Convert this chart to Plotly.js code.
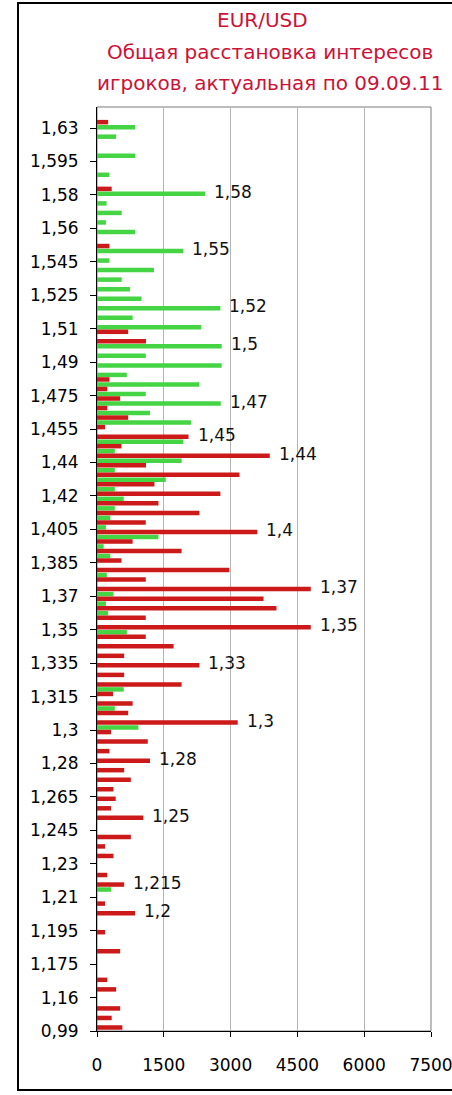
<!DOCTYPE html>
<html>
<head>
<meta charset="utf-8">
<script src="https://cdn.plot.ly/plotly-3.0.1.min.js"></script>
<style>
  html, body { margin: 0; padding: 0; background: #ffffff; }
  #chart { width: 452px; height: 1095px; }
</style>
</head>
<body>
<div id="chart"></div>
<script>
// ---- data ----
const titleLines = ["EUR/USD", "Общая расстановка интересов", "игроков, актуальная по 09.09.11"];

const priceLevels = [
  1.62, 1.615, 1.61, 1.605, 1.6, 1.595, 1.59, 1.585, 1.58, 1.575,
  1.57, 1.565, 1.56, 1.555, 1.55, 1.545, 1.54, 1.535, 1.53, 1.525,
  1.52, 1.515, 1.51, 1.505, 1.5, 1.495, 1.49, 1.485, 1.48, 1.475,
  1.47, 1.465, 1.46, 1.455, 1.45, 1.445, 1.44, 1.435, 1.43, 1.425,
  1.42, 1.415, 1.41, 1.405, 1.4, 1.395, 1.39, 1.385, 1.38, 1.375,
  1.37, 1.365, 1.36, 1.355, 1.35, 1.345, 1.34, 1.335, 1.33, 1.325,
  1.32, 1.315, 1.31, 1.305, 1.3, 1.295, 1.29, 1.285, 1.28, 1.275,
  1.27, 1.265, 1.26, 1.255, 1.25, 1.245, 1.24, 1.235, 1.23, 1.225,
  1.22, 1.215, 1.21, 1.205, 1.2, 1.195, 1.19, 1.185, 1.18, 1.175,
  1.17, 1.165, 1.16, 1.155, 1.15, 1.145, 1.14
];

const redValues = [
  0, 250, 0, 0, 0, 0, 0, 0, 330, 0,
  0, 0, 0, 0, 280, 0, 0, 0, 0, 0,
  0, 0, 0, 700, 1100, 0, 0, 0, 280, 230,
  520, 230, 700, 180, 2055, 550, 3880, 1100, 3200, 1290,
  2770, 1380, 2300, 1095, 3600, 800, 1900, 550, 2970, 1095,
  4800, 3740, 4030, 1095, 4800, 1095, 1720, 610, 2300, 610,
  1900, 360, 800, 700, 3160, 315, 1140, 280, 1190, 610,
  760, 370, 420, 315, 1040, 0, 760, 180, 370, 0,
  230, 610, 0, 180, 855, 0, 180, 0, 520, 0,
  0, 230, 430, 0, 520, 330, 570
];

const greenValues = [
  0, 855, 430, 0, 855, 0, 280, 0, 2430, 215,
  555, 200, 855, 0, 1940, 280, 1280, 555, 740, 1000,
  2770, 800, 2340, 0, 2800, 1095, 2800, 670, 2300, 1095,
  2780, 1190, 2110, 0, 1940, 400, 1900, 400, 1545, 400,
  600, 400, 300, 200, 1380, 150, 300, 0, 220, 0,
  370, 200, 250, 0, 670, 0, 0, 0, 0, 0,
  600, 0, 400, 0, 930, 0, 0, 0, 0, 0,
  0, 0, 0, 0, 0, 0, 0, 0, 0, 0,
  0, 315, 0, 0, 0, 0, 0, 0, 0, 0,
  0, 0, 0, 0, 0, 0, 0
];

const yTickLabels = [
  "1,63", "1,595", "1,58", "1,56", "1,545", "1,525", "1,51", "1,49", "1,475", "1,455",
  "1,44", "1,42", "1,405", "1,385", "1,37", "1,35", "1,335", "1,315", "1,3", "1,28",
  "1,265", "1,245", "1,23", "1,21", "1,195", "1,175", "1,16", "0,99"
];

const xTickValues = [0, 1500, 3000, 4500, 6000, 7500];

const barLabelTexts  = ["1,58", "1,55", "1,52", "1,5", "1,47", "1,45", "1,44", "1,4", "1,37", "1,35", "1,33", "1,3", "1,28", "1,25", "1,215", "1,2"];
const barLabelPrices = [1.58, 1.55, 1.52, 1.5, 1.47, 1.45, 1.44, 1.4, 1.37, 1.35, 1.33, 1.3, 1.28, 1.25, 1.215, 1.2];
const barLabelSeries = ["g", "g", "g", "g", "g", "r", "r", "r", "r", "r", "r", "r", "r", "r", "r", "r"];

// ---- layout constants ----
const FONT = "DejaVu Sans";
const W = 452, H = 1095;
const M = { l: 97, r: 21, t: 107, b: 64 };
const plotH = H - M.t - M.b;   // 924
const plotW = W - M.l - M.r;   // 334
const yTop = 1.62426, yBot = 1.13947;
const subW = 0.00236;          // thickness of each sub-bar (price units)
const subGap = 0.00013;        // half gap between red (upper) and green (lower) sub-bars
const redCenter = subGap + subW / 2;

const firstTickPx = 21, tickStepPx = 903 / 27;
const yTickVals = yTickLabels.map((_, k) =>
  yTop - (firstTickPx + k * tickStepPx) / plotH * (yTop - yBot));

const traces = [
  {
    type: "bar", orientation: "h", name: "green",
    y: priceLevels, x: greenValues,
    offset: -(subGap + subW), width: subW,
    marker: { color: "#45d443", line: { width: 0 } },
    hoverinfo: "skip", showlegend: false
  },
  {
    type: "bar", orientation: "h", name: "red",
    y: priceLevels, x: redValues,
    offset: subGap, width: subW,
    marker: { color: "#cc1a1a", line: { width: 0 } },
    hoverinfo: "skip", showlegend: false
  }
];

const annotations = barLabelTexts.map((t, i) => {
  const idx = priceLevels.indexOf(barLabelPrices[i]);
  const isGreen = barLabelSeries[i] === "g";
  const val = isGreen ? greenValues[idx] : redValues[idx];
  return {
    x: val, y: barLabelPrices[i] + (isGreen ? -redCenter : redCenter),
    xref: "x", yref: "y", text: t, showarrow: false,
    xanchor: "left", yanchor: "middle", xshift: 7, yshift: 2,
    font: { family: FONT, size: 17, color: "#111111" }
  };
});

// title lines (as annotations in paper coordinates)
const titleCentersPx = [[262, 20], [270, 52], [270, 83]];
titleLines.forEach((t, i) => {
  annotations.push({
    x: (titleCentersPx[i][0] - M.l) / plotW,
    y: (H - M.b - titleCentersPx[i][1]) / plotH,
    xref: "paper", yref: "paper", text: t, showarrow: false,
    xanchor: "center", yanchor: "middle",
    font: { family: FONT, size: 20, color: "#cc1236" }
  });
});

const shapes = [
  // plot-area frame
  { type: "rect", xref: "paper", yref: "paper", x0: 0, x1: 1, y0: 0, y1: 1,
    line: { color: "#7a7a7a", width: 1 }, layer: "below" },
  // outer chart frame
  { type: "rect", xref: "paper", yref: "paper",
    x0: (18 - M.l) / plotW, x1: (470 - M.l) / plotW,
    y0: (H - M.b - 1090) / plotH, y1: (H - M.b - 3) / plotH,
    line: { color: "#000000", width: 2 }, layer: "above" }
];

const layout = {
  width: W, height: H,
  margin: M,
  paper_bgcolor: "#ffffff", plot_bgcolor: "#ffffff",
  barmode: "overlay",
  showlegend: false,
  font: { family: FONT, color: "#000000" },
  xaxis: {
    range: [0, 7500], tickmode: "array", tickvals: xTickValues,
    ticktext: xTickValues.map(String),
    ticks: "outside", ticklen: 5, tickcolor: "#000000", tickwidth: 1,
    showline: true, linecolor: "#000000", linewidth: 1,
    showgrid: true, gridcolor: "#b4b4b4", gridwidth: 1,
    zeroline: false, fixedrange: true,
    tickfont: { family: FONT, size: 17, color: "#000000" },
    ticklabelstandoff: 14, ticklabeloverflow: "allow"
  },
  yaxis: {
    range: [yBot, yTop], tickmode: "array", tickvals: yTickVals, ticktext: yTickLabels,
    ticks: "outside", ticklen: 6, tickcolor: "#000000", tickwidth: 1,
    showline: true, linecolor: "#000000", linewidth: 1,
    showgrid: false, zeroline: false, fixedrange: true,
    tickfont: { family: FONT, size: 17, color: "#000000" },
    ticklabelstandoff: 8, ticklabeloverflow: "allow"
  },
  annotations: annotations,
  shapes: shapes
};

Plotly.newPlot("chart", traces, layout, { displayModeBar: false, staticPlot: true });
</script>
</body>
</html>
